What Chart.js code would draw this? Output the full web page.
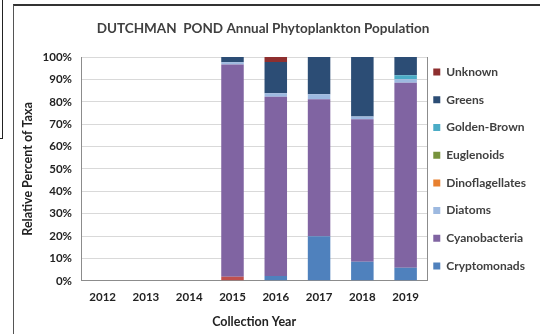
<!DOCTYPE html>
<html>
<head>
<meta charset="utf-8">
<script src="https://cdn.jsdelivr.net/npm/chart.js@4.4.0/dist/chart.umd.min.js"></script>
<style>
  html, body { margin: 0; padding: 0; background: #fff; overflow: hidden; }
  #page { position: relative; width: 540px; height: 334px; overflow: hidden; }
  #frag { position: absolute; left: 0; top: 0; width: 2px; height: 138px; border-right: 1px solid #222; border-bottom: 1px solid #222; }
  #frame { position: absolute; left: 13px; top: 4px; width: 540px; height: 340px; border-left: 1px solid #555; border-top: 2px solid #333; }
  #wrap { position: absolute; left: -10px; top: 6px; width: 546px; height: 328px; }
</style>
</head>
<body>
<div id="page">
  <div id="frag"></div>
  <div id="frame"></div>
  <div id="wrap"><canvas id="myChart"></canvas></div>
</div>
<script>
let years = ["2012", "2013", "2014", "2015", "2016", "2017", "2018", "2019"];
let cryptomonads = [0, 0, 0, 0, 2.2, 19.9, 8.5, 5.8];
let unlabeled = [0, 0, 0, 1.8, 0, 0, 0, 0];
let cyanobacteria = [0, 0, 0, 94.9, 80.1, 61.3, 63.7, 82.7];
let diatoms = [0, 0, 0, 1.0, 1.5, 2.2, 1.2, 1.6];
let dinoflagellates = [0, 0, 0, 0, 0, 0, 0, 0];
let euglenoids = [0, 0, 0, 0, 0, 0, 0, 0];
let goldenBrown = [0, 0, 0, 0, 0, 0, 0, 1.8];
let greens = [0, 0, 0, 2.3, 14.0, 16.6, 26.6, 8.1];
let unknown = [0, 0, 0, 0, 2.2, 0, 0, 0];
let yTicks = ["0%", "10%", "20%", "30%", "40%", "50%", "60%", "70%", "80%", "90%", "100%"];

const txt = "#404040";
const fam = "Lato, 'Open Sans', sans-serif";

let chart1 = document.getElementById("myChart").getContext("2d");
const myChart = new Chart(chart1, {
  type: "bar",
  data: {
    labels: years,
    datasets: [
      { label: "", data: unlabeled, backgroundColor: "#C0504D" },
      { label: "Cryptomonads", data: cryptomonads, backgroundColor: "#4F81BD" },
      { label: "Cyanobacteria", data: cyanobacteria, backgroundColor: "#8064A2" },
      { label: "Diatoms", data: diatoms, backgroundColor: "#9DB9E0" },
      { label: "Dinoflagellates", data: dinoflagellates, backgroundColor: "#E8802F" },
      { label: "Euglenoids", data: euglenoids, backgroundColor: "#77933C" },
      { label: "Golden-Brown", data: goldenBrown, backgroundColor: "#4BACC6" },
      { label: "Greens", data: greens, backgroundColor: "#2C4D75" },
      { label: "Unknown", data: unknown, backgroundColor: "#8E2F2F" },
    ],
  },
  options: {
    responsive: true,
    maintainAspectRatio: false,
    animation: false,
    datasets: {
      bar: { categoryPercentage: 1, barPercentage: 0.52, borderWidth: 0 },
    },
    plugins: {
      title: {
        display: true,
        text: "DUTCHMAN  POND Annual Phytoplankton Population",
        color: txt,
        font: { family: fam, size: 13.5, weight: "bold" },
        padding: { top: 14.7, bottom: 20.2 },
      },
      legend: {
        position: "right",
        align: "start",
        maxWidth: 200,
        reverse: true,
        title: { display: true, text: " ", padding: { top: 39.6, bottom: 0 } },
        labels: {
          boxWidth: 7,
          boxHeight: 7,
          padding: 6,
          color: txt,
          font: { family: fam, size: 12, weight: "bold", lineHeight: 1.81 },
          generateLabels: (chart) => {
            // one-line arrays so the row height follows the font line height
            return Chart.defaults.plugins.legend.labels.generateLabels(chart)
              .filter((l) => l.text !== "")
              .map((l) => Object.assign(l, { text: [l.text] }));
          },
        },
      },
      tooltip: { enabled: false },
    },
    scales: {
      x: {
        stacked: true,
        grid: { display: false, drawTicks: false },
        border: { color: "#8c8c8c" },
        ticks: { color: "#222", padding: 10, font: { family: fam, size: 11.5, weight: "bold" } },
        title: {
          display: true,
          text: "Collection Year",
          color: "#222",
          font: { family: fam, size: 12.5, weight: "bold" },
          padding: { top: 0.3, bottom: 4.1 },
        },
      },
      y: {
        stacked: true,
        min: 0,
        max: 100,
        grid: { color: "#d9d9d9", drawTicks: false },
        border: { color: "#8c8c8c" },
        ticks: {
          stepSize: 10,
          padding: 9,
          color: "#222",
          font: { family: fam, size: 11.5, weight: "bold" },
          callback: (v) => yTicks[Math.round(v / 10)],
        },
        title: {
          display: true,
          text: "Relative Percent of Taxa",
          color: "#222",
          font: { family: fam, size: 12.5, weight: "bold" },
          padding: { top: 30, bottom: 4.3 },
        },
      },
      y2: {
        position: "right",
        min: 0,
        max: 100,
        grid: { display: false, drawTicks: false },
        border: { color: "#8c8c8c" },
        ticks: { display: false },
        afterFit: (scale) => { scale.width = 0; },
      },
    },
  },
});
</script>
</body>
</html>
